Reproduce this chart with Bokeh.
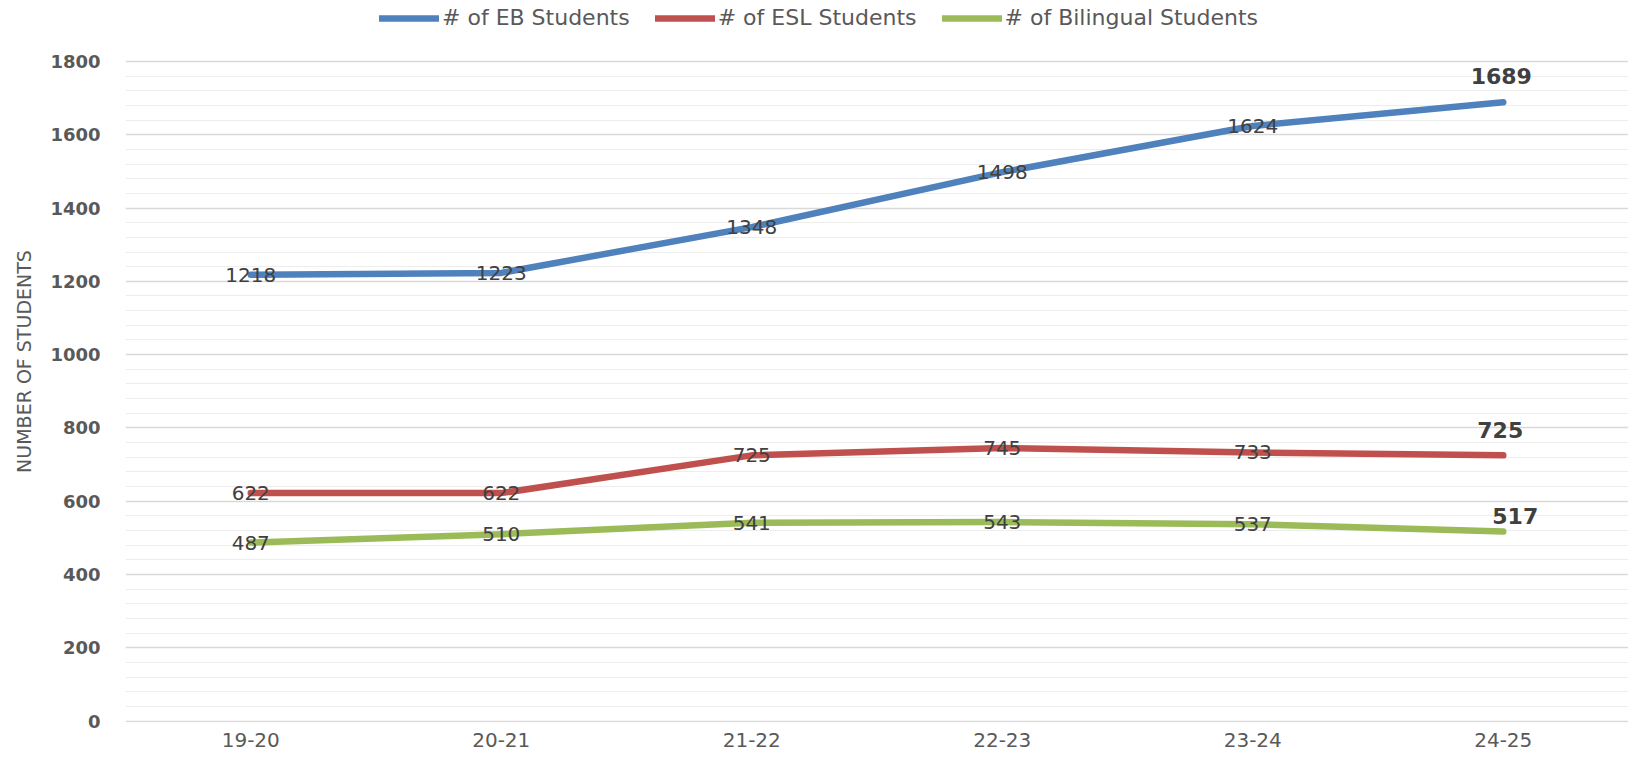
from bokeh.plotting import figure
from bokeh.models import FactorRange, Range1d, FixedTicker, Legend, LegendItem
from bokeh.embed import file_html
from bokeh.resources import INLINE
from bokeh.core.properties import value

# ---- data ----
years = ["19-20", "20-21", "21-22", "22-23", "23-24", "24-25"]
eb_students = [1218, 1223, 1348, 1498, 1624, 1689]
esl_students = [622, 622, 725, 745, 733, 725]
bilingual_students = [487, 510, 541, 543, 537, 517]
series_names = ["# of EB Students", "# of ESL Students", "# of Bilingual Students"]
y_axis_title = "NUMBER OF STUDENTS"
y_major_ticks = [0, 200, 400, 600, 800, 1000, 1200, 1400, 1600, 1800]
y_minor_ticks = [40, 80, 120, 160, 240, 280, 320, 360, 440, 480, 520, 560,
                 640, 680, 720, 760, 840, 880, 920, 960, 1040, 1080, 1120, 1160,
                 1240, 1280, 1320, 1360, 1440, 1480, 1520, 1560, 1640, 1680, 1720, 1760]

FONT = "DejaVu Sans"
GREY = "#595959"
LABEL = "#404040"
colors = ["#4F81BD", "#C0504D", "#9BBB59"]

# layout (pixels)
W, H = 1628, 760
BORDER_LEFT, BORDER_BOTTOM = 125, 38
FRAME_H = H - BORDER_BOTTOM
GAP_TOP = 61            # frame top -> 1800 gridline
PAD_BOTTOM = 1.5        # keeps the 0 gridline inside the frame
span = FRAME_H - GAP_TOP - PAD_BOTTOM
units_per_px = y_major_ticks[-1] / span
y_bottom = -PAD_BOTTOM * units_per_px
y_top = y_major_ticks[-1] + GAP_TOP * units_per_px

p = figure(
    x_range=FactorRange(*years),
    y_range=Range1d(y_bottom, y_top),
    width=W, height=H,
    output_backend="svg", toolbar_location=None,
    min_border_left=BORDER_LEFT, min_border_right=0,
    min_border_top=0, min_border_bottom=BORDER_BOTTOM,
)
p.outline_line_color = None
p.background_fill_color = "white"

ticker = FixedTicker(ticks=y_major_ticks, minor_ticks=y_minor_ticks)
p.yaxis.ticker = ticker
p.ygrid.ticker = ticker
p.ygrid.grid_line_color = "#d9d9d9"
p.ygrid.grid_line_width = 1.5
p.ygrid.minor_grid_line_color = "#ededed"
p.ygrid.minor_grid_line_width = 1
p.xgrid.visible = False

for ax in (p.xaxis, p.yaxis):
    ax.axis_line_color = None
    ax.major_tick_line_color = None
    ax.minor_tick_line_color = None
    ax.major_tick_out = 0
    ax.major_tick_in = 0
    ax.minor_tick_out = 0
    ax.minor_tick_in = 0
    ax.major_label_text_font = FONT
    ax.major_label_text_color = GREY

p.yaxis.major_label_text_font_size = "18px"
p.yaxis.major_label_text_font_style = "bold"
p.yaxis.major_label_standoff = 25
p.yaxis.axis_label = y_axis_title
p.yaxis.axis_label_text_font = FONT
p.yaxis.axis_label_text_font_style = "normal"
p.yaxis.axis_label_text_font_size = "19px"
p.yaxis.axis_label_text_color = GREY
p.yaxis.axis_label_standoff = 12

p.xaxis.major_label_text_font_size = "20px"
p.xaxis.major_label_standoff = 10

series = [eb_students, esl_students, bilingual_students]
renderers = []
for vals, col in zip(series, colors):
    r = p.line(x=years, y=vals, line_color=col, line_width=6.5,
               line_cap="round", line_join="round")
    renderers.append(r)

# regular data labels (centered on the points)
for vals in series:
    p.text(x=years[:-1], y=vals[:-1], text=[str(v) for v in vals[:-1]],
           text_align="center", text_baseline="middle",
           text_font=value(FONT), text_font_size="20px", text_color=LABEL)

# bold labels at the last point
last_offsets = [(-2, -26), (-3, -25), (12, -16)]
for vals, (dx, dy) in zip(series, last_offsets):
    p.text(x=[years[-1]], y=[vals[-1]], text=[str(vals[-1])],
           x_offset=dx, y_offset=dy,
           text_align="center", text_baseline="middle",
           text_font=value(FONT), text_font_size="22px",
           text_font_style="bold", text_color=LABEL)

legend = Legend(
    items=[LegendItem(label=n, renderers=[r]) for n, r in zip(series_names, renderers)],
    orientation="horizontal", location=(254, FRAME_H - 30),
    glyph_width=60, glyph_height=20, label_standoff=3, spacing=25,
    padding=0, margin=0, border_line_color=None, background_fill_alpha=0,
    label_text_font=FONT, label_text_font_size="22px", label_text_color=GREY,
)
p.add_layout(legend, "center")

open("out.html", "w").write(file_html(p, INLINE))
